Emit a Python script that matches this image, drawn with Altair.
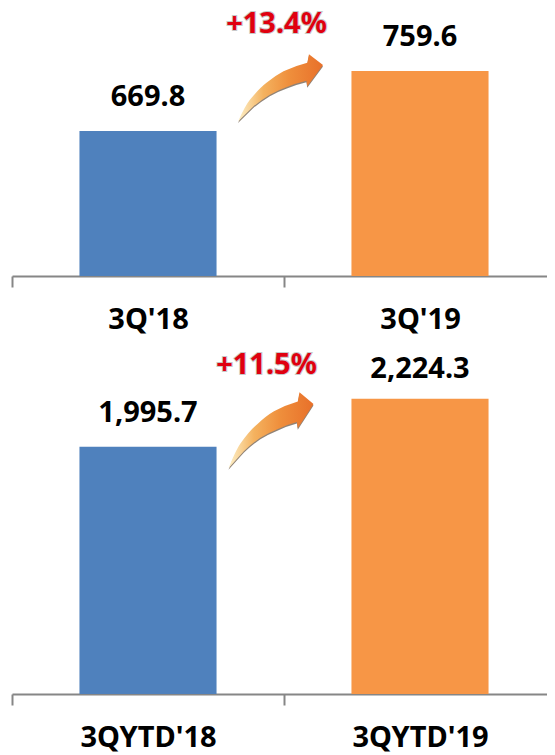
import altair as alt
import pandas as pd

cats_a = ["3Q'18", "3Q'19"]
vals_a = [669.8, 759.6]
labels_a = ["669.8", "759.6"]
label_at_a = [720.8, 810.5]
cats_b = ["3QYTD'18", "3QYTD'19"]
vals_b = [1995.7, 2224.3]
labels_b = ["1,995.7", "2,224.3"]
label_at_b = [2157, 2367]
colors = ["#4f81bd", "#f79646"]

delta_a, delta_b = "+13.4%", "+11.5%"
delta_at_a, delta_at_b = 829.3, 2386
arrow_at_a, arrow_at_b = 735.7, 2080

ARROW_A = ("M-1,.81 Q-.82,.42 -.72,.30 Q-.5,.03 -.33,-.10 Q-.12,-.27 .07,-.37 "
           "Q.35,-.5 .63,-.57 L.67,-.77 L1,-.52 L.63,-.02 L.61,-.15 "
           "Q.35,-.09 .15,0 Q-.05,.07 -.25,.18 Q-.45,.3 -.64,.46 Z")
ARROW_B = ("M-1,.92 Q-.82,.48 -.72,.34 Q-.5,.03 -.33,-.11 Q-.12,-.31 .07,-.42 "
           "Q.35,-.57 .63,-.65 L.67,-.87 L1,-.59 L.63,-.02 L.61,-.17 "
           "Q.35,-.1 .15,0 Q-.05,.08 -.25,.2 Q-.45,.34 -.64,.52 Z")

FONT = "Noto Sans"
GRAD = alt.Gradient(
    gradient="linear", x1=0, x2=1, y1=0, y2=0,
    stops=[
        alt.GradientStop(color="#fdf0c8", offset=0),
        alt.GradientStop(color="#f4b25f", offset=0.3),
        alt.GradientStop(color="#ef8f3c", offset=0.6),
        alt.GradientStop(color="#e8702a", offset=1),
    ],
)


def panel(cats, vals, labels, label_at, domain, height, delta, delta_at, delta_dx,
          arrow_at, arrow_dx, path):
    df = pd.DataFrame({"c": cats, "v": vals, "t": labels, "at": label_at, "col": colors})
    x = alt.X(
        "c:N", sort=cats, title=None,
        scale=alt.Scale(paddingInner=0, paddingOuter=0),
        axis=alt.Axis(
            labelAngle=0, labelFont=FONT, labelFontSize=29, labelFontWeight="bold",
            labelColor="#000000", labelPadding=18, tickBand="extent", tickSize=11,
            tickWidth=2, tickColor="#868686", domainColor="#868686", domainWidth=2,
            grid=False,
        ),
    )
    y = alt.Y("v:Q", scale=alt.Scale(domain=domain, clamp=True, nice=False, zero=False), axis=None)
    base = alt.Chart(df)
    bars = base.mark_bar(width=alt.RelativeBandSize(band=0.504)).encode(
        x=x, y=y, color=alt.Color("col:N", scale=None))
    text = base.mark_text(font=FONT, fontSize=29, fontWeight="bold", color="#000000").encode(
        x=x, y=alt.Y("at:Q", scale=alt.Scale(domain=domain, nice=False, zero=False), axis=None), text="t:N")
    ann = alt.Chart(pd.DataFrame({"c": [cats[0]], "d": [delta_at], "a": [arrow_at], "s": [delta]}))
    yd = alt.Y("d:Q", scale=alt.Scale(domain=domain, nice=False, zero=False), axis=None)
    ya = alt.Y("a:Q", scale=alt.Scale(domain=domain, nice=False, zero=False), axis=None)
    glow = ann.mark_text(font=FONT, fontSize=29, fontWeight="bold", color="#c8c8c8", stroke="#c8c8c8",
                         strokeWidth=2, dx=delta_dx).encode(x=x, y=yd, text="s:N")
    red = ann.mark_text(font=FONT, fontSize=29, fontWeight="bold", color="#e0000f", dx=delta_dx).encode(
        x=x, y=yd, text="s:N")
    size = 85 ** 2
    shadow = ann.mark_point(shape=path, size=size, filled=True, fill="#6b5a4a", opacity=0.75,
                            strokeWidth=0, xOffset=arrow_dx, yOffset=1.5).encode(x=x, y=ya)
    arrow = ann.mark_point(shape=path, size=size, filled=True, fill=GRAD, opacity=1,
                           strokeWidth=0, xOffset=arrow_dx).encode(x=x, y=ya)
    return alt.layer(bars, text, glow, red, shadow, arrow).properties(width=544, height=height)


top = panel(cats_a, vals_a, labels_a, label_at_a, [452.8, 851], 266, delta_a, delta_at_a, 128.5,
            arrow_at_a, 132.5, ARROW_A)
bottom = panel(cats_b, vals_b, labels_b, label_at_b, [819, 2533], 360, delta_b, delta_at_b, 118.5,
               arrow_at_b, 123, ARROW_B)

chart = alt.vconcat(top, bottom, spacing=0).properties(
    padding={"left": 3, "top": 2, "right": -10, "bottom": 6}
).configure_view(stroke=None)

chart.save("out.html", embed_options={"renderer": "svg", "actions": False})
